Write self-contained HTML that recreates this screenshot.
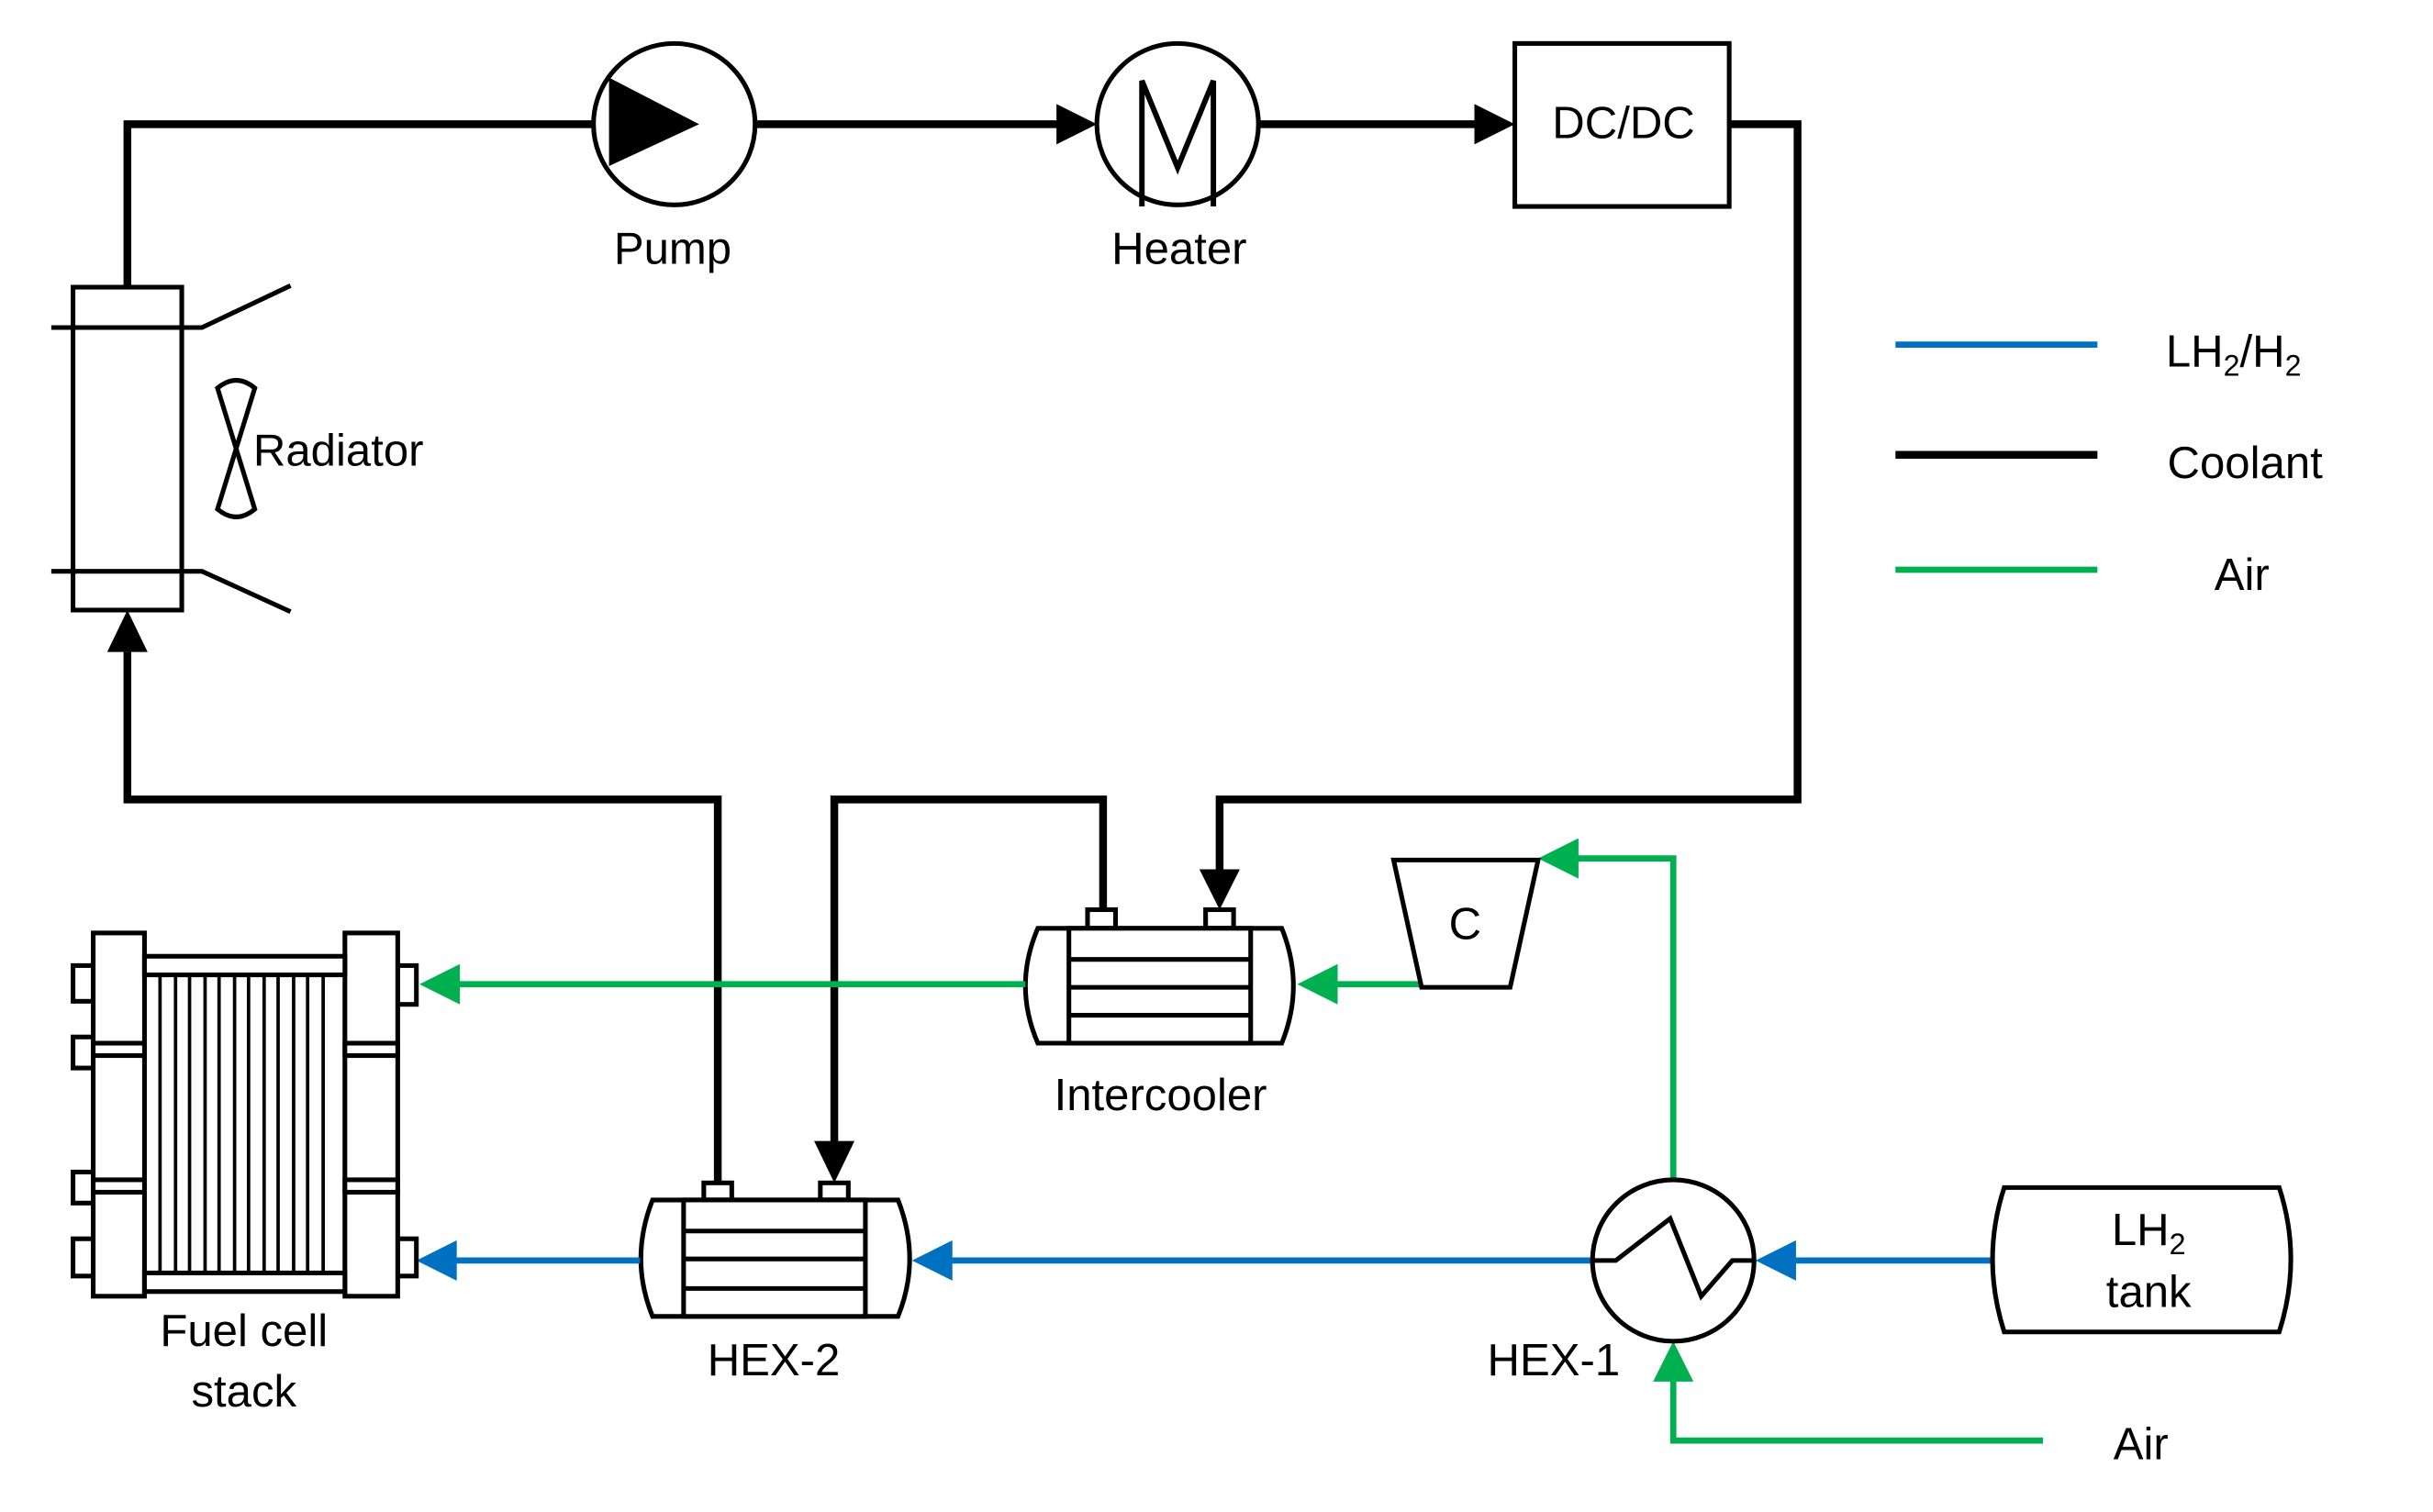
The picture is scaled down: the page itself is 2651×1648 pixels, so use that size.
<!DOCTYPE html>
<html><head><meta charset="utf-8"><style>
html,body{margin:0;padding:0;background:#fff;}
svg{display:block;}
text{font-family:"Liberation Sans",sans-serif;font-size:29px;fill:#000;}
</style></head><body>
<svg width="2651" height="1648" viewBox="0 0 1566 974" preserveAspectRatio="none" xmlns="http://www.w3.org/2000/svg">
<g fill="none" stroke="#000" stroke-width="5">
<polyline points="82,185 82,80 382,80"/>
<line x1="486" y1="80" x2="684" y2="80"/>
<line x1="810" y1="80" x2="952" y2="80"/>
<polyline points="1113,80 1157,80 1157,515 785,515 785,565"/>
<polyline points="462,762 462,515 82,515 82,420"/>
<polyline points="710,586 710,515 537,515 537,738"/>
</g>
<g fill="#000">
<polygon points="706,80 680,67 680,93"/>
<polygon points="975,80 949,67 949,93"/>
<polygon points="785,586 772,560 798,560"/>
<polygon points="82,393 69,420 95,420"/>
<polygon points="537,762 524,735 550,735"/>
</g>
<circle cx="434" cy="80" r="52" fill="#fff" stroke="#000" stroke-width="3"/>
<polygon points="392,50 450,80 392,107" fill="#000"/>
<circle cx="758" cy="80" r="52" fill="#fff" stroke="#000" stroke-width="3"/>
<polyline points="735,133 735,52 758,108 781,52 781,133" fill="none" stroke="#000" stroke-width="3.5"/>
<rect x="975" y="28" width="138" height="105" fill="#fff" stroke="#000" stroke-width="3"/>
<text x="1045" y="89" text-anchor="middle">DC/DC</text>
<g fill="none" stroke="#000" stroke-width="3">
<rect x="47" y="185" width="70" height="208"/>
<polyline points="33,211 130,211 187,184"/>
<polyline points="33,368 130,368 187,394"/>
<path d="M140,250 Q152,240 164,250 L140,328 Q152,338 164,328 Z"/>
</g>
<text x="163" y="300">Radiator</text>
<g fill="#fff" stroke="#000" stroke-width="3">
<rect x="700" y="586" width="18" height="12"/>
<rect x="776" y="586" width="18" height="12"/>
<path d="M668,598 L825,598 Q840,635 825,672 L668,672 Q652,635 668,598 Z"/>
<rect x="688" y="598" width="117" height="74"/>
<line x1="688" y1="618" x2="805" y2="618"/><line x1="688" y1="636" x2="805" y2="636"/><line x1="688" y1="654" x2="805" y2="654"/>
</g>
<text x="747" y="715" text-anchor="middle">Intercooler</text>
<g fill="#fff" stroke="#000" stroke-width="3">
<rect x="453" y="762" width="18" height="11"/>
<rect x="528" y="762" width="18" height="11"/>
<path d="M420,773 L578,773 Q593,811 578,848 L420,848 Q405,811 420,773 Z"/>
<rect x="440" y="773" width="117" height="75"/>
<line x1="440" y1="793" x2="557" y2="793"/><line x1="440" y1="811" x2="557" y2="811"/><line x1="440" y1="830" x2="557" y2="830"/>
</g>
<text x="498" y="886" text-anchor="middle">HEX-2</text>
<g fill="none" stroke="#00B050" stroke-width="4">
<line x1="660" y1="634" x2="292" y2="634"/>
<line x1="915" y1="634" x2="858" y2="634"/>
<polyline points="1077,760 1077,553 1013,553"/>
<polyline points="1315,928 1077,928 1077,888"/>
<line x1="1220" y1="367" x2="1350" y2="367"/>
</g>
<g fill="#00B050">
<polygon points="270,634 296,621 296,647"/>
<polygon points="835,634 861,621 861,647"/>
<polygon points="990,553 1016,540 1016,566"/>
<polygon points="1077,864 1064,890 1090,890"/>
</g>
<g fill="none" stroke="#0070C0" stroke-width="4">
<line x1="1025" y1="812" x2="610" y2="812"/>
<line x1="412" y1="812" x2="290" y2="812"/>
<line x1="1282" y1="812" x2="1152" y2="812"/>
<line x1="1220" y1="222" x2="1350" y2="222"/>
</g>
<g fill="#0070C0">
<polygon points="587,812 613,799 613,825"/>
<polygon points="268,812 294,799 294,825"/>
<polygon points="1130,812 1156,799 1156,825"/>
</g>
<line x1="1220" y1="293" x2="1350" y2="293" stroke="#000" stroke-width="5"/>
<polygon points="897,554 990,554 972,636 915,636" fill="#fff" stroke="#000" stroke-width="3"/>
<text x="943" y="605" text-anchor="middle">C</text>
<circle cx="1077" cy="812" r="52" fill="#fff" stroke="#000" stroke-width="3"/>
<polyline points="1025,812 1040,812 1075,785 1095,835 1115,812 1130,812" fill="none" stroke="#000" stroke-width="3"/>
<text x="1000" y="886" text-anchor="middle">HEX-1</text>
<path d="M1290,765 L1467,765 Q1482,811 1467,858 L1290,858 Q1275,811 1290,765 Z" fill="#fff" stroke="#000" stroke-width="3"/>
<text x="1383" y="802" text-anchor="middle">LH<tspan font-size="19" dy="6">2</tspan></text>
<text x="1383" y="842" text-anchor="middle">tank</text>
<text x="1378" y="940" text-anchor="middle">Air</text>
<text x="1394" y="236">LH<tspan font-size="19" dy="6">2</tspan><tspan dy="-6">/H</tspan><tspan font-size="19" dy="6">2</tspan></text>
<text x="1445" y="308" text-anchor="middle">Coolant</text>
<text x="1443" y="380" text-anchor="middle">Air</text>
<g fill="#fff" stroke="#000" stroke-width="3">
<rect x="47" y="622" width="13" height="23"/>
<rect x="47" y="668" width="13" height="20"/>
<rect x="47" y="755" width="13" height="20"/>
<rect x="47" y="798" width="13" height="24"/>
<rect x="256" y="622" width="12" height="25"/>
<rect x="256" y="798" width="12" height="24"/>
<rect x="60" y="601" width="33" height="234"/>
<rect x="222" y="601" width="34" height="234"/>
<rect x="93" y="616" width="129" height="12"/>
<rect x="93" y="820" width="129" height="12"/>
<rect x="60" y="672" width="33" height="8"/><rect x="222" y="672" width="34" height="8"/>
<rect x="60" y="760" width="33" height="8"/><rect x="222" y="760" width="34" height="8"/>
</g>
<g stroke="#000" stroke-width="2.2">
<line x1="103" y1="628" x2="103" y2="820"/><line x1="113" y1="628" x2="113" y2="820"/><line x1="122" y1="628" x2="122" y2="820"/><line x1="132" y1="628" x2="132" y2="820"/><line x1="141" y1="628" x2="141" y2="820"/><line x1="151" y1="628" x2="151" y2="820"/><line x1="160" y1="628" x2="160" y2="820"/><line x1="170" y1="628" x2="170" y2="820"/><line x1="179" y1="628" x2="179" y2="820"/><line x1="189" y1="628" x2="189" y2="820"/><line x1="198" y1="628" x2="198" y2="820"/><line x1="208" y1="628" x2="208" y2="820"/>
</g>
<text x="157" y="867" text-anchor="middle">Fuel cell</text>
<text x="157" y="906" text-anchor="middle">stack</text>
<text x="433" y="170" text-anchor="middle">Pump</text>
<text x="759" y="170" text-anchor="middle">Heater</text>
</svg>
</body></html>
